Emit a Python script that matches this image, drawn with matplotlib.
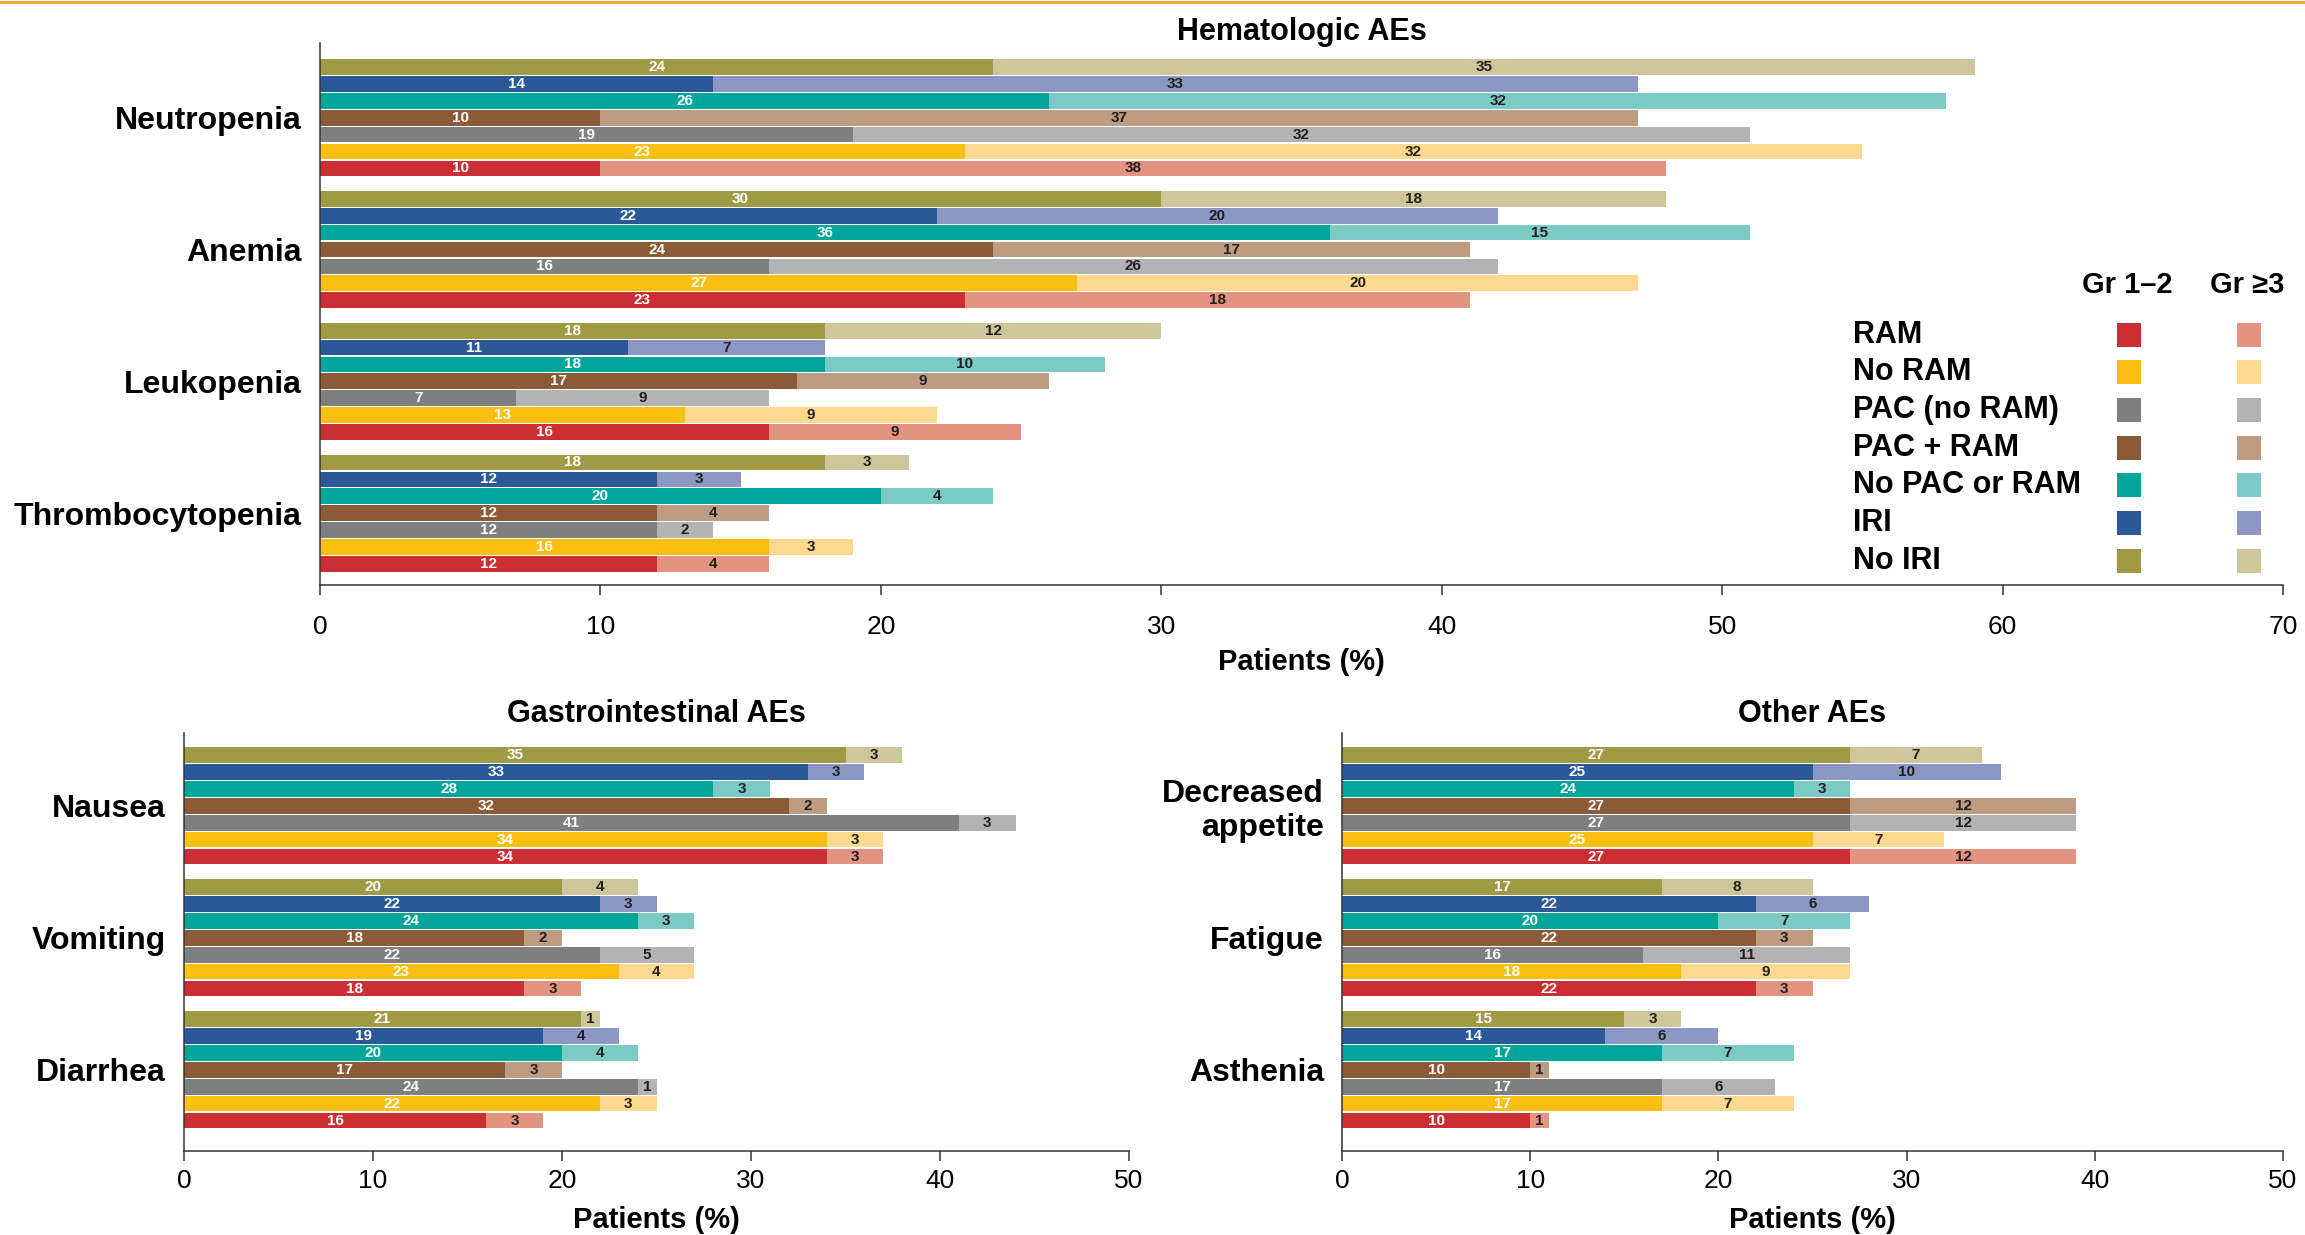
import matplotlib
matplotlib.use('Agg')
import matplotlib.pyplot as plt
from matplotlib.patches import Rectangle
from matplotlib.lines import Line2D

plt.rcParams['font.family'] = ['Liberation Sans', 'DejaVu Sans']

# ---- data
series = ['RAM', 'No RAM', 'PAC (no RAM)', 'PAC + RAM', 'No PAC or RAM', 'IRI', 'No IRI']
dark_colors = ['#CC2F33', '#FBBF12', '#7F7F7F', '#8B5B38', '#00A69A', '#2B5896', '#A09A44']
light_colors = ['#E39382', '#FCD98E', '#B4B3B3', '#BE9C82', '#7BCAC5', '#8D97C5', '#CCC69A']

heme_aes = ['Neutropenia', 'Anemia', 'Leukopenia', 'Thrombocytopenia']
heme_gr12 = [[10, 23, 19, 10, 26, 14, 24],
             [23, 27, 16, 24, 36, 22, 30],
             [16, 13, 7, 17, 18, 11, 18],
             [12, 16, 12, 12, 20, 12, 18]]
heme_gr3 = [[38, 32, 32, 37, 32, 33, 35],
            [18, 20, 26, 17, 15, 20, 18],
            [9, 9, 9, 9, 10, 7, 12],
            [4, 3, 2, 4, 4, 3, 3]]

gi_aes = ['Nausea', 'Vomiting', 'Diarrhea']
gi_gr12 = [[34, 34, 41, 32, 28, 33, 35],
           [18, 23, 22, 18, 24, 22, 20],
           [16, 22, 24, 17, 20, 19, 21]]
gi_gr3 = [[3, 3, 3, 2, 3, 3, 3],
          [3, 4, 5, 2, 3, 3, 4],
          [3, 3, 1, 3, 4, 4, 1]]

other_aes = ['Decreased\nappetite', 'Fatigue', 'Asthenia']
other_gr12 = [[27, 25, 27, 27, 24, 25, 27],
              [22, 18, 16, 22, 20, 22, 17],
              [10, 17, 17, 10, 17, 14, 15]]
other_gr3 = [[12, 7, 12, 12, 3, 10, 7],
             [3, 9, 11, 3, 7, 6, 8],
             [1, 7, 6, 1, 7, 6, 3]]

GROUP = 7.8
W, H = 2305, 1235


def draw_panel(ax, aes, gr12, gr3, xmax, top_pad, bot_pad, tpad, lpad):
    n = len(series)
    for g in range(len(aes)):
        for s in range(n):
            y = g * GROUP + (n - 1 - s)
            a = gr12[g][s]
            b = gr3[g][s]
            ax.barh(y, a, height=0.93, color=dark_colors[s], linewidth=0)
            ax.barh(y, b, left=a, height=0.93, color=light_colors[s], linewidth=0)
            ax.text(a / 2, y, str(a), ha='center', va='center', color='white',
                    fontsize=11, fontweight='bold')
            ax.text(a + b / 2, y, str(b), ha='center', va='center', color='#231F20',
                    fontsize=11, fontweight='bold')
    last = (len(aes) - 1) * GROUP + n - 1
    ax.set_ylim(last + bot_pad, -top_pad)
    ax.set_xlim(0, xmax)
    ax.set_xticks(range(0, xmax + 1, 10))
    ax.set_yticks([g * GROUP + 3 for g in range(len(aes))])
    ax.set_yticklabels(aes, fontsize=23, fontweight='bold', linespacing=1.15)
    ax.tick_params(axis='y', length=0, pad=13)
    ax.tick_params(axis='x', length=7, width=1.1, color='#333333', labelsize=19, pad=tpad)
    for side in ['top', 'right']:
        ax.spines[side].set_visible(False)
    for side in ['left', 'bottom']:
        ax.spines[side].set_color('#333333')
        ax.spines[side].set_linewidth(1.1)
    ax.set_xlabel('Patients (%)', fontsize=21, fontweight='bold', labelpad=lpad)


fig = plt.figure(figsize=(W / 100, H / 100), dpi=100)

ax1 = fig.add_axes([320 / W, 1 - 585 / H, 1963 / W, 542 / H])
draw_panel(ax1, heme_aes, heme_gr12, heme_gr3, 70, 1.42, 1.25, 14.3, 6.5)

ax2 = fig.add_axes([184 / W, 1 - 1151 / H, 945 / W, 418 / H])
draw_panel(ax2, gi_aes, gi_gr12, gi_gr3, 50, 1.3, 1.8, 6, 9.5)

ax3 = fig.add_axes([1342 / W, 1 - 1151 / H, 941 / W, 418 / H])
draw_panel(ax3, other_aes, other_gr12, other_gr3, 50, 1.3, 1.8, 6, 9.5)

# panel titles
fig.text((320 + 2283) / 2 / W, 1 - 32 / H, 'Hematologic AEs', ha='center', va='center',
         fontsize=22, fontweight='bold')
fig.text((184 + 1129) / 2 / W, 1 - 714 / H, 'Gastrointestinal AEs', ha='center', va='center',
         fontsize=22, fontweight='bold')
fig.text((1342 + 2283) / 2 / W, 1 - 714 / H, 'Other AEs', ha='center', va='center',
         fontsize=22, fontweight='bold')

# ---- legend (pixel positions converted to figure fraction)
fig.text(2127 / W, 1 - 285 / H, 'Gr 1\u20132', ha='center', va='center', fontsize=21, fontweight='bold')
fig.text(2247 / W, 1 - 285 / H, 'Gr \u22653', ha='center', va='center', fontsize=21, fontweight='bold')
row_y = [335, 372, 410, 448, 485, 523, 561]
sq = 24
for i, name in enumerate(series):
    yc = row_y[i]
    fig.text(1853 / W, 1 - yc / H, name, ha='left', va='center', fontsize=22, fontweight='bold')
    for xc, col in [(2129, dark_colors[i]), (2249, light_colors[i])]:
        fig.add_artist(Rectangle(((xc - sq / 2) / W, 1 - (yc + sq / 2) / H), sq / W, sq / H,
                                 transform=fig.transFigure, color=col, linewidth=0))

# orange rule at the very top
fig.add_artist(Line2D([0, 1], [1 - 1.5 / H, 1 - 1.5 / H], transform=fig.transFigure,
                      color='#F2A73B', linewidth=2.2))

fig.savefig('out.png', dpi=100)
